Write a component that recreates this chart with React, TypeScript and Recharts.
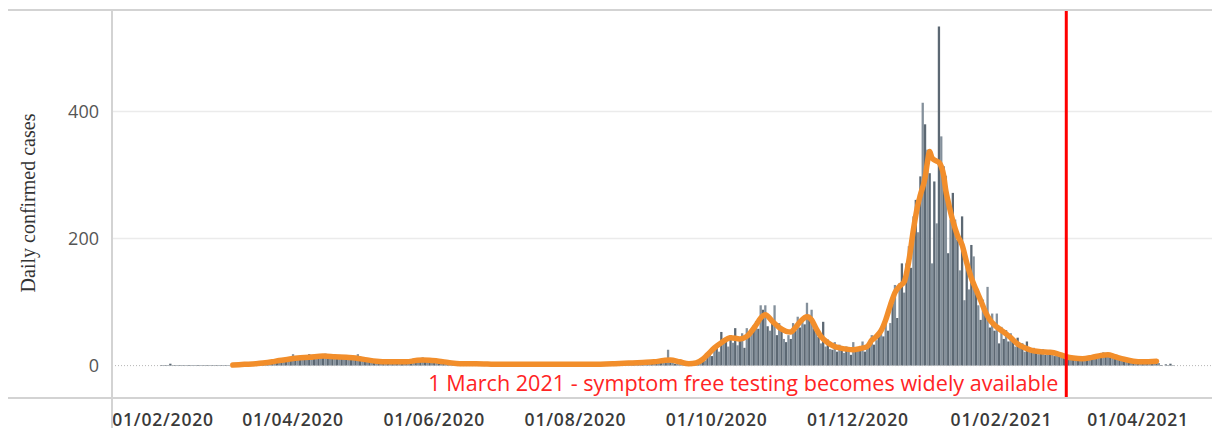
import React from 'react';
import { ComposedChart, Bar, Line, XAxis, YAxis, ReferenceLine, CartesianGrid, Cell, Label } from 'recharts';

// day numbers count from 1 Jan 2020 (= day 0)
const monthFirstDay = [34, 60, 91, 121, 152, 182, 213, 244, 274, 305, 335, 366, 397, 425, 456];

const feb2020 = [1, 1, 1, 1, 3, 1, 1, 1, 1, 1, 1, 1, 1, 1, 1, 1, 1, 1, 1, 1, 1, 1, 1, 1, 1, 1];
const mar2020 = [1, 1, 1, 1, 0, 1, 0, 1, 1, 0, 1, 2, 1, 2, 1, 3, 2, 4, 2, 5, 3, 6, 5, 7, 9, 6, 10, 8, 11, 9, 12];
const apr2020 = [18, 9, 12, 14, 10, 15, 11, 18, 13, 16, 12, 14, 17, 15, 19, 13, 16, 14, 12, 15, 17, 13, 11, 14, 16, 12, 10, 13, 18, 14];
const may2020 = [12, 9, 10, 8, 9, 7, 8, 6, 7, 5, 7, 6, 4, 7, 5, 6, 8, 5, 7, 6, 8, 9, 11, 10, 12, 9, 13, 10, 8, 11, 9];
const jun2020 = [10, 8, 7, 9, 6, 5, 7, 4, 6, 3, 5, 4, 3, 2, 4, 3, 2, 3, 1, 2, 3, 2, 1, 2, 1, 2, 3, 1, 2, 1];
const jul2020 = [1, 2, 1, 1, 2, 1, 0, 1, 2, 1, 1, 0, 2, 1, 1, 2, 1, 0, 1, 1, 2, 1, 1, 2, 1, 0, 1, 2, 1, 1, 2];
const aug2020 = [2, 1, 3, 2, 1, 2, 3, 1, 2, 2, 3, 1, 2, 3, 2, 1, 3, 2, 2, 3, 4, 2, 3, 5, 3, 4, 2, 5, 4, 3, 6];
const sep2020 = [4, 6, 5, 3, 7, 5, 8, 6, 4, 25, 5, 7, 3, 4, 2, 3, 1, 0, 1, 3, 2, 5, 4, 9, 12, 8, 18, 22, 15, 30];
const oct2020 = [28, 22, 53, 38, 44, 30, 48, 36, 59, 32, 41, 51, 28, 59, 45, 52, 63, 70, 58, 95, 88, 95, 62, 55, 72, 95, 48, 67, 55, 42, 37];
const nov2020 = [48, 42, 67, 55, 77, 60, 72, 65, 99, 80, 88, 58, 52, 45, 35, 69, 30, 41, 26, 25, 37, 22, 33, 28, 20, 30, 26, 17, 37, 24];
const dec2020 = [26, 30, 38, 22, 28, 30, 48, 33, 40, 46, 59, 46, 77, 55, 67, 98, 127, 75, 130, 161, 115, 161, 188, 154, 235, 261, 210, 298, 414, 380, 340];
const jan2021 = [303, 161, 290, 224, 534, 361, 314, 299, 177, 230, 272, 230, 198, 150, 235, 103, 156, 120, 190, 172, 119, 95, 72, 104, 85, 124, 60, 82, 55, 82, 35];
const feb2021 = [61, 42, 56, 38, 51, 44, 30, 44, 28, 35, 22, 38, 25, 20, 28, 25, 18, 22, 26, 17, 21, 24, 18, 15, 19, 14, 16, 12];
const mar2021 = [14, 11, 9, 13, 10, 12, 8, 11, 9, 13, 10, 15, 12, 17, 14, 19, 21, 16, 18, 13, 15, 11, 12, 9, 10, 7, 8, 6, 7, 5, 6];
const apr2021 = [7, 5, 8, 6, 9, 7, 5, 8, 6, 4, 1, 0, 2, 1, 3, 1];

const casesByMonth = [feb2020, mar2020, apr2020, may2020, jun2020, jul2020, aug2020, sep2020, oct2020, nov2020, dec2020, jan2021, feb2021, mar2021, apr2021];

// 7 day average
const avgDays = [65, 70, 75, 78, 82, 85, 89, 93, 98, 104, 109, 114, 118, 123, 127, 132, 137, 140, 144, 147, 151, 154, 158, 163, 170, 180, 190, 200, 210, 220, 230, 236, 242, 247, 251, 254, 258, 262, 265, 268, 270, 273, 276, 280, 284, 287, 291, 293, 295, 298, 301, 304, 306, 308, 310, 313, 315, 317, 319, 322, 325, 327, 330, 333, 336, 339, 341, 343, 345, 347, 349, 351, 353, 355, 357, 359, 361, 362, 364, 365, 366, 367, 369, 370, 372, 373, 374, 376, 378, 380, 382, 384, 386, 388, 390, 392, 394, 396, 399, 401, 404, 407, 410, 414, 418, 421, 425, 428, 432, 436, 440, 443, 446, 450, 454, 458, 464];
const avgValues = [1, 2, 3, 4, 6, 8, 10, 12, 13, 15, 14, 13, 12, 9, 7, 6, 6, 6, 8, 9, 8, 7, 5, 3, 3, 2, 2, 2, 2, 2, 3, 4, 5, 6, 8, 9, 6, 3, 4, 10, 17, 28, 36, 44, 42, 46, 64, 75, 80, 70, 60, 54, 53, 60, 69, 77, 72, 58, 46, 36, 30, 28, 26, 25, 27, 30, 40, 46, 55, 72, 95, 115, 125, 132, 165, 215, 255, 269, 296, 320, 337, 327, 322, 320, 300, 275, 258, 228, 205, 190, 162, 138, 120, 103, 85, 72, 64, 58, 50, 44, 34, 28, 24, 22, 21, 19, 14, 12, 11, 13, 16, 17, 14, 10, 7, 6, 7];

const tickDays = [31, 91, 152, 213, 274, 335, 397, 456];
const tickLabels = ['01/02/2020', '01/04/2020', '01/06/2020', '01/08/2020', '01/10/2020', '01/12/2020', '01/02/2021', '01/04/2021'];
const yTicks = [0, 200, 400];
const gridValues = [200, 400];

const testingDay = 425;
const testingNote = '1 March 2021 - symptom free testing becomes widely available';

const rows: { day: number; cases: number; avg: number | null }[] = [];
casesByMonth.forEach((vals, m) => {
  vals.forEach((v, i) => rows.push({ day: monthFirstDay[m] + i, cases: v, avg: null }));
});
avgDays.forEach((d, i) => {
  const r = rows.find((row) => row.day === d);
  if (r) r.avg = avgValues[i];
});

const W = 1220;
const H = 436;
const AXIS_W = 112;
const frame = '#d3d3d3';

const DateTick = (props: any) => {
  const { x, y, payload } = props;
  const i = tickDays.indexOf(payload.value);
  const cx = Math.max(x, AXIS_W + 51); // keep the first label clear of the axis
  return (
    <text
      x={cx}
      y={y + 26}
      textAnchor="middle"
      fill="#3a3a3a"
      fontSize={17.5}
      fontWeight={600}
      letterSpacing={0.8}
      fontFamily="'Open Sans', sans-serif"
    >
      {tickLabels[i]}
    </text>
  );
};

export default function App() {
  return (
    <div style={{ position: 'relative', width: W, height: H, margin: -8, background: '#fff' }}>
      <ComposedChart
        width={W}
        height={H}
        data={rows}
        margin={{ top: 10, right: 0, bottom: 0, left: 0 }}
      >
        <CartesianGrid
          vertical={false}
          horizontalValues={gridValues}
          stroke="#ebebeb"
          strokeWidth={1.5}
        />
        <XAxis
          type="number"
          dataKey="day"
          domain={[12.8, 491.4]}
          ticks={tickDays}
          allowDataOverflow
          height={38}
          axisLine={false}
          tickLine={false}
          tickSize={0}
          tick={<DateTick />}
          interval={0}
        />
        <YAxis
          type="number"
          domain={[-51, 560]}
          ticks={yTicks}
          width={AXIS_W}
          axisLine={false}
          tickLine={false}
          tickSize={0}
          tickMargin={13}
          tick={{ fill: '#555', fontSize: 18, fontFamily: "'Open Sans', sans-serif" }}
        >
          <Label
            content={() => (
              <text
                x={28}
                y={203}
                transform="rotate(-90, 28, 203)"
                textAnchor="middle"
                dominantBaseline="central"
                fill="#333"
                fontSize={20}
                fontFamily="'Liberation Serif', serif"
              >
                Daily confirmed cases
              </text>
            )}
          />
        </YAxis>
        <Bar dataKey="cases" barSize={2.3} isAnimationActive={false}>
          {rows.map((r, i) => (
            <Cell key={r.day} fill={i % 2 === 0 ? '#5c6873' : '#84909b'} />
          ))}
        </Bar>
        <ReferenceLine y={0} stroke="#b5b5b5" strokeDasharray="1 2" />
        <Line
          dataKey="avg"
          type="monotone"
          connectNulls
          dot={false}
          stroke="#f28e2b"
          strokeWidth={5.5}
          strokeLinecap="round"
          strokeLinejoin="round"
          isAnimationActive={false}
        />
        <ReferenceLine x={testingDay} stroke="#ff0000" strokeWidth={3}>
          <Label
            content={(p: any) => {
              const vb = p.viewBox || {};
              return (
                <text
                  x={vb.x - 8}
                  y={vb.y + vb.height - 7}
                  textAnchor="end"
                  fill="#ff2424"
                  fontSize={21.6}
                  fontFamily="'Open Sans', sans-serif"
                >
                  {testingNote}
                </text>
              );
            }}
          />
        </ReferenceLine>
      </ComposedChart>
      <div style={{ position: 'absolute', left: 5, top: 9, width: W - 5, height: 2, background: frame }} />
      <div style={{ position: 'absolute', left: 5, top: 397, width: W - 5, height: 2, background: frame }} />
      <div style={{ position: 'absolute', left: AXIS_W - 1, top: 10, width: 2, height: H - 10, background: frame }} />
    </div>
  );
}
